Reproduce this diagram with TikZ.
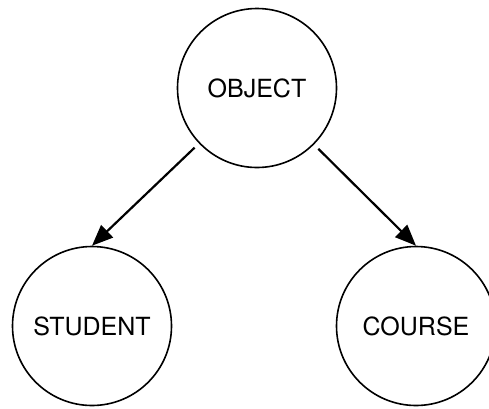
\documentclass[tikz,border=0pt]{standalone}
\usepackage{fontspec}
\setmainfont{TeX Gyre Heros}
\usepackage{tikz}
\usetikzlibrary{shapes.geometric, arrows.meta, positioning}
\definecolor{ClassInk}{HTML}{000000}
\definecolor{ClassPaper}{HTML}{ffffff}
\tikzset{
    % Class circle style
    classnode/.style={
        circle,
        draw=ClassInk,
        fill=ClassPaper,
        line width=1.6pt,
        minimum size=159pt,
        inner sep=0pt,
        align=center,
        font=\fontsize{25}{30}\selectfont
    },
    % Inheritance arrow style
    inherit/.style={
        -{Triangle[length=21pt,width=17pt]},
        line width=2.2pt,
        color=ClassInk,
        shorten <=6pt
    }
}
\begin{document}
\begin{tikzpicture}[x=1pt, y=-1pt]
        \useasboundingbox (0,0) rectangle (489,408);

        % Class nodes
        \node (object) [classnode] at (257,88) {OBJECT};
        \node (student) [classnode] at (92,326) {STUDENT};
        \node (course) [classnode] at (416,326) {COURSE};

        % Arrows
        \draw [inherit] (object) -- (student.north);
        \draw [inherit] (object) -- (course.north);
    \end{tikzpicture}
\end{document}
